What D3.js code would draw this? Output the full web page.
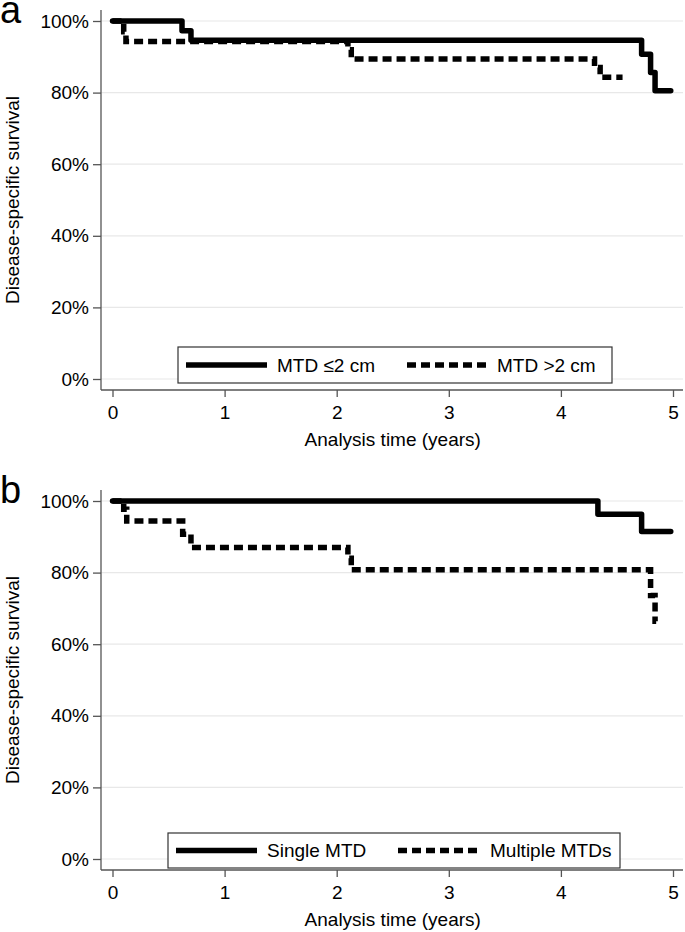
<!DOCTYPE html>
<html>
<head>
<meta charset="utf-8">
<script src="https://cdn.jsdelivr.net/npm/d3@7"></script>
<style>
  body { margin: 0; background: #fff; }
  svg { display: block; }
  text { font-family: "Liberation Sans", Arial, sans-serif; fill: #000; }
</style>
</head>
<body>
<svg id="chart" width="685" height="932"></svg>
<script>
// ---- Data ----
const xTicks = [0, 1, 2, 3, 4, 5];
const yTicks = [0, 0.2, 0.4, 0.6, 0.8, 1.0];
const yTickLabels = ["0%", "20%", "40%", "60%", "80%", "100%"];
const xTitle = "Analysis time (years)";
const yTitle = "Disease-specific survival";

// Panel a
const aLabel = "a";
const aSolidName = "MTD \u22642 cm";
const aSolidTime = [0, 0.62, 0.70, 4.72, 4.80, 4.84, 4.98];
const aSolidSurv = [1.0, 0.973, 0.946, 0.907, 0.856, 0.805, 0.805];
const aDashName = "MTD >2 cm";
const aDashTime = [0, 0.10, 0.12, 2.10, 2.13, 4.30, 4.35, 4.55];
const aDashSurv = [1.0, 0.97, 0.943, 0.92, 0.894, 0.87, 0.843, 0.843];

// Panel b
const bLabel = "b";
const bSolidName = "Single MTD";
const bSolidTime = [0, 4.33, 4.72, 4.98];
const bSolidSurv = [1.0, 0.963, 0.915, 0.915];
const bDashName = "Multiple MTDs";
const bDashTime = [0, 0.10, 0.127, 0.626, 0.70, 2.10, 2.13, 4.80, 4.84, 4.85];
const bDashSurv = [1.0, 0.977, 0.944, 0.907, 0.870, 0.84, 0.808, 0.736, 0.664, 0.664];

// ---- Layout ----
const panels = [
  { label: aLabel, top: 21, bottom: 379, axisY: 390, axisTop: 10,
    solid: { name: aSolidName, t: aSolidTime, s: aSolidSurv },
    dash: { name: aDashName, t: aDashTime, s: aDashSurv },
    legend: { x0: 178, x1: 612, y0: 347, y1: 383, textX1: 277, keyX2: 407, textX2: 497 } },
  { label: bLabel, top: 501, bottom: 859, axisY: 870, axisTop: 490,
    solid: { name: bSolidName, t: bSolidTime, s: bSolidSurv },
    dash: { name: bDashName, t: bDashTime, s: bDashSurv },
    legend: { x0: 168, x1: 620, y0: 833, y1: 868, textX1: 267, keyX2: 398, textX2: 490 } }
];

const svg = d3.select("#chart");
const axisX = 101;
const rightEdge = 683;
const x = d3.scaleLinear().domain([0, 5]).range([112.5, 673]);
const FS = 19;

function stepPoints(t, s) {
  const pts = [];
  for (let i = 0; i < t.length; i++) {
    if (i > 0) pts.push([t[i], s[i - 1]]);
    pts.push([t[i], s[i]]);
  }
  return pts;
}

panels.forEach(p => {
  const y = d3.scaleLinear().domain([0, 1]).range([p.bottom, p.top]);
  const g = svg.append("g");

  // grid lines
  g.selectAll(".grid").data(yTicks).join("line")
    .attr("x1", axisX).attr("x2", rightEdge)
    .attr("y1", d => y(d)).attr("y2", d => y(d))
    .attr("stroke", "#e8e8e8").attr("stroke-width", 1.2);

  // y axis
  const yAxis = d3.axisLeft(y).tickValues(yTicks)
    .tickFormat((d, i) => yTickLabels[i]).tickSize(8).tickPadding(4);
  const ya = g.append("g").attr("transform", `translate(${axisX},0)`).call(yAxis);
  ya.select(".domain").remove();
  ya.append("line").attr("x1", 0).attr("x2", 0).attr("y1", p.axisTop).attr("y2", p.axisY)
    .attr("stroke", "#555").attr("stroke-width", 1.3);
  ya.selectAll(".tick line").attr("stroke", "#555").attr("stroke-width", 1.3);
  ya.selectAll(".tick text").attr("font-size", FS).attr("fill", "#000")
    .attr("font-family", "Liberation Sans, Arial, sans-serif");

  // x axis
  const xAxis = d3.axisBottom(x).tickValues(xTicks).tickFormat(d3.format("d"))
    .tickSize(7).tickPadding(9);
  const xa = g.append("g").attr("transform", `translate(0,${p.axisY})`).call(xAxis);
  xa.select(".domain").remove();
  xa.append("line").attr("x1", axisX).attr("x2", rightEdge).attr("y1", 0).attr("y2", 0)
    .attr("stroke", "#555").attr("stroke-width", 1.3);
  xa.selectAll(".tick line").attr("stroke", "#555").attr("stroke-width", 1.3);
  xa.selectAll(".tick text").attr("font-size", FS).attr("fill", "#000")
    .attr("font-family", "Liberation Sans, Arial, sans-serif");

  // axis titles
  g.append("text").attr("x", (x(0) + x(5)) / 2).attr("y", p.axisY + 56)
    .attr("text-anchor", "middle").attr("font-size", FS).text(xTitle);
  g.append("text")
    .attr("transform", `translate(19,${(p.top + p.bottom) / 2}) rotate(-90)`)
    .attr("text-anchor", "middle").attr("font-size", FS).text(yTitle);

  // panel label
  g.append("text").attr("x", 0).attr("y", p.top + 2)
    .attr("font-size", 38).text(p.label);

  // curves
  const line = d3.line().x(d => x(d[0])).y(d => y(d[1]));
  g.append("path").attr("d", line(stepPoints(p.solid.t, p.solid.s)))
    .attr("fill", "none").attr("stroke", "#000").attr("stroke-width", 5.5)
    .attr("stroke-linejoin", "round").attr("stroke-linecap", "round");
  g.append("path").attr("d", line(stepPoints(p.dash.t, p.dash.s)))
    .attr("fill", "none").attr("stroke", "#000").attr("stroke-width", 5.5)
    .attr("stroke-dasharray", "9,5").attr("stroke-linejoin", "miter");

  // legend
  const L = p.legend;
  const ly = (L.y0 + L.y1) / 2;
  g.append("rect").attr("x", L.x0).attr("y", L.y0)
    .attr("width", L.x1 - L.x0).attr("height", L.y1 - L.y0)
    .attr("fill", "#fff").attr("stroke", "#333").attr("stroke-width", 1.2);
  g.append("line").attr("x1", L.x0 + 8).attr("x2", L.x0 + 89).attr("y1", ly).attr("y2", ly)
    .attr("stroke", "#000").attr("stroke-width", 5.5);
  g.append("text").attr("x", L.textX1).attr("y", ly).attr("dy", "0.35em")
    .attr("font-size", FS).text(p.solid.name);
  g.append("line").attr("x1", L.keyX2).attr("x2", L.keyX2 + 79).attr("y1", ly).attr("y2", ly)
    .attr("stroke", "#000").attr("stroke-width", 5.5).attr("stroke-dasharray", "9,5");
  g.append("text").attr("x", L.textX2).attr("y", ly).attr("dy", "0.35em")
    .attr("font-size", FS).text(p.dash.name);
});
</script>
</body>
</html>
